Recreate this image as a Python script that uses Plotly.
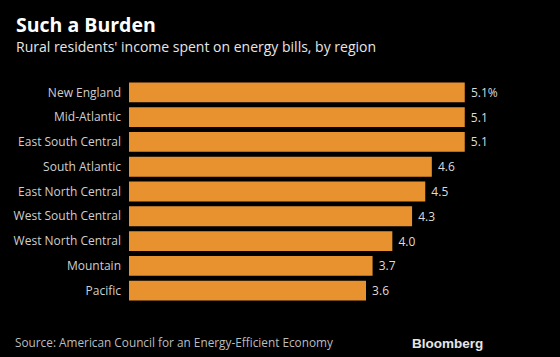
import plotly.graph_objects as go

regions = ["New England", "Mid-Atlantic", "East South Central", "South Atlantic",
           "East North Central", "West South Central", "West North Central",
           "Mountain", "Pacific"]
values = [5.1, 5.1, 5.1, 4.6, 4.5, 4.3, 4.0, 3.7, 3.6]
labels = ["5.1%", "5.1", "5.1", "4.6", "4.5", "4.3", "4.0", "3.7", "3.6"]

FONT = "Open Sans"
W, H = 560, 357
L, R, T, B = 129, 36, 80, 54
PW, PH = W - L - R, H - T - B


def px(x):
    return (x - L) / PW


def py(y):
    return (H - B - y) / PH


fig = go.Figure(go.Bar(
    x=values, y=regions, orientation="h",
    marker=dict(color="#e8922f", line=dict(width=0)),
    text=["\u00a0" + t for t in labels], textposition="outside", cliponaxis=False,
    textfont=dict(color="#dcdcdc", size=12, family=FONT),
    hoverinfo="skip",
))

fig.update_layout(
    width=W, height=H,
    paper_bgcolor="black", plot_bgcolor="black",
    margin=dict(l=L, r=R, t=T, b=B, autoexpand=False),
    bargap=0.2,
    showlegend=False,
    xaxis=dict(range=[0, 6], visible=False, fixedrange=True, automargin=False),
    yaxis=dict(autorange="reversed", showgrid=False, zeroline=False,
               showline=False, ticks="", ticklabelstandoff=7, automargin=False,
               fixedrange=True,
               tickfont=dict(color="#cfcfcf", size=12, family=FONT)),
    annotations=[
        dict(text="<b>Such a Burden</b>", xref="paper", yref="paper",
             x=px(14), y=py(25), xanchor="left", yanchor="middle",
             showarrow=False, font=dict(color="white", size=19.5, family=FONT)),
        dict(text="Rural residents' income spent on energy bills, by region",
             xref="paper", yref="paper", x=px(14), y=py(46),
             xanchor="left", yanchor="middle", showarrow=False,
             font=dict(color="#e6e6e6", size=14, family=FONT)),
        dict(text="Source: American Council for an Energy-Efficient Economy",
             xref="paper", yref="paper", x=px(13), y=py(342),
             xanchor="left", yanchor="middle", showarrow=False,
             font=dict(color="#bdbdbd", size=11.8, family=FONT)),
        dict(text="<b>Bloomberg</b>", xref="paper", yref="paper", x=px(485),
             y=py(343), xanchor="right", yanchor="middle",
             showarrow=False,
             font=dict(color="#e6e6e6", size=13.5, family="Liberation Sans")),
    ],
)

fig.write_html(
    "out.html",
    config={"displayModeBar": False},
    post_script="document.body.style.margin='0';document.body.style.overflow='hidden';",
)
